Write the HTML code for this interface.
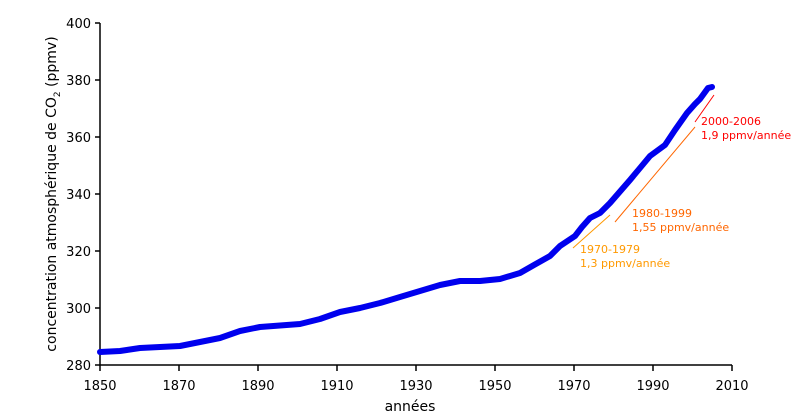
<!DOCTYPE html>
<html><head><meta charset="utf-8"><style>
body{margin:0;background:#fff}
svg{display:block}
text{font-family:"DejaVu Sans","Liberation Sans",sans-serif}
</style></head><body>
<svg width="806" height="419" viewBox="0 0 806 419" xmlns="http://www.w3.org/2000/svg">
<g stroke="#000" stroke-width="1.5" fill="none">
<path d="M100,23 V365 H732"/>
<path d="M95,23H100M95,80H100M95,137H100M95,194H100M95,251H100M95,308H100M95,365H100"/>
<path d="M100,365V371M179,365V371M258,365V371M337,365V371M416,365V371M495,365V371M574,365V371M653,365V371M732,365V371"/>
</g>
<g font-size="13" fill="#000" text-anchor="end">
<text x="91" y="28">400</text><text x="91" y="85">380</text><text x="91" y="142">360</text>
<text x="91" y="199">340</text><text x="91" y="256">320</text><text x="91" y="313">300</text><text x="91" y="370">280</text>
</g>
<g font-size="13" fill="#000" text-anchor="middle">
<text x="100" y="390">1850</text><text x="179" y="390">1870</text><text x="258" y="390">1890</text>
<text x="337" y="390">1910</text><text x="416" y="390">1930</text><text x="495" y="390">1950</text>
<text x="574" y="390">1970</text><text x="653" y="390">1990</text><text x="732" y="390">2010</text>
<text x="410" y="411" font-size="14">années</text>
<text transform="translate(56,194) rotate(-90)" font-size="14">concentration atmosphérique de CO<tspan font-size="9" dy="4">2</tspan><tspan dy="-4"> (ppmv)</tspan></text>
</g>
<polyline fill="none" stroke="#0000ee" stroke-width="6" stroke-linejoin="round" stroke-linecap="round"
points="100,352 120,351 140,348 160,347 180,346 200,342 220,338 240,331 260,327 300,324 320,319 340,312 360,308 380,303 400,297 420,291 440,285 460,281 480,281 500,279 520,273 534,265 550,256 560,246 575,236 582,227 590,218 600,213 610,203 630,180 650,156 665,145 675,130 687,113 695,104 700,99 708,88 712,87"/>
<line x1="573" y1="248" x2="610" y2="215" stroke="#ff9900" stroke-width="1"/>
<line x1="615" y1="222" x2="695" y2="127" stroke="#ff6600" stroke-width="1"/>
<line x1="695" y1="122" x2="714" y2="95" stroke="#ff0000" stroke-width="1"/>
<g font-size="11">
<text x="701" y="125" fill="#ff0000">2000-2006</text><text x="701" y="139" fill="#ff0000">1,9 ppmv/année</text>
<text x="632" y="217" fill="#ff6600">1980-1999</text><text x="632" y="231" fill="#ff6600">1,55 ppmv/année</text>
<text x="580" y="253" fill="#ff9900">1970-1979</text><text x="580" y="267" fill="#ff9900">1,3 ppmv/année</text>
</g>
</svg>
</body></html>
